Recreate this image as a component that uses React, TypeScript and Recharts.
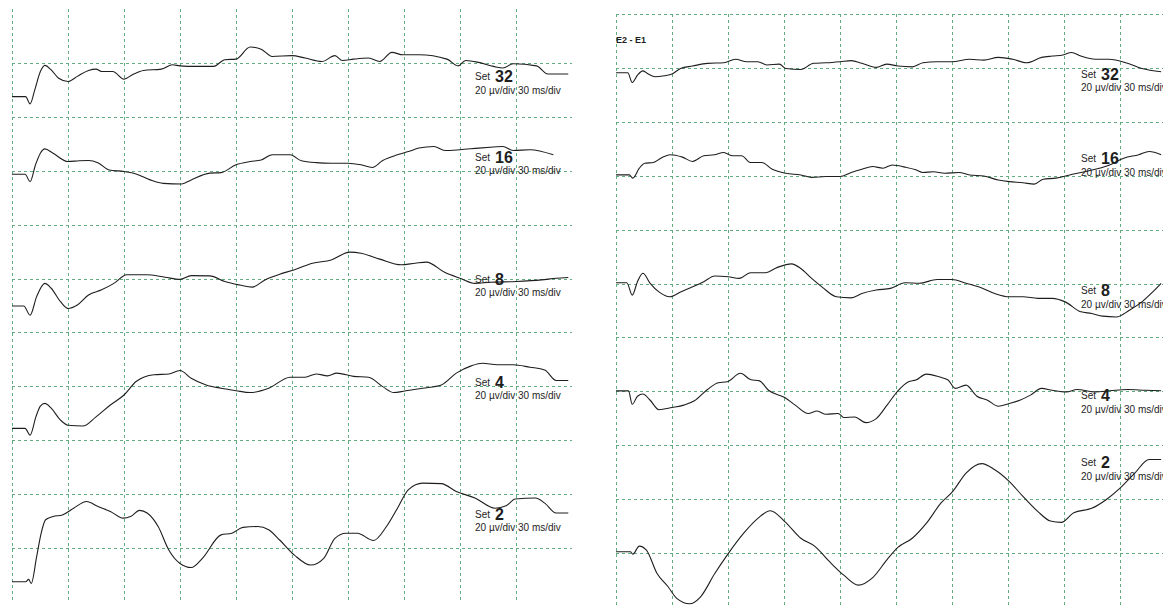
import { LineChart, Line, XAxis, YAxis, CartesianGrid } from "recharts";

type Pt = [number, number];

// time in ms, amplitude in µV relative to each trace's own baseline
const setNames = ["32", "16", "8", "4", "2"];
const leftBase = [187.5, 158.7, 109.8, 64.4, 7.5];
const rightBase = [198.2, 160.3, 120.3, 80.2, 20.5];

const xTicks = [0, 30, 60, 90, 120, 150, 180, 210, 240, 270];
const yTicksLeft = [0, 20, 40, 60, 80, 100, 120, 140, 160, 180, 200];
const yTicksRight = [0, 20, 40, 60, 80, 100, 120, 140, 160, 180, 200, 220];
const yMax = 220;

const left32: Pt[] = [
	[0, 0], [7.3, 0], [9.7, -2.7], [12.2, 2.5], [15.2, 9.3], [17.6, 11.6], [21, 9.9], [25, 6.8],
	[30, 5.6], [35, 7.5], [41, 9.7], [45, 10.2], [48, 9.3], [54, 9.3], [60, 6.5], [64.5, 8.1],
	[70.4, 9.7], [80, 10.2], [86, 11.8], [90, 11.4], [98, 11.2], [108, 11.2], [114, 13.7], [120, 13.9],
	[127.6, 18.4], [133.5, 17.6], [139.4, 14.9], [150, 15.2], [157, 14.3], [166, 13], [173, 15.2],
	[177, 13.4], [183, 13.9], [191, 14.3], [197, 13], [203.5, 16.4], [209.5, 15.5], [218, 15.5],
	[233, 13.9], [239, 11.4], [243, 13.4], [250, 12.7], [258, 11.2], [263, 10.6], [268.5, 12.2],
	[281, 11.4], [287, 8.4], [298, 8.4]
];
const left16: Pt[] = [
	[0, 0], [7, 0], [9.7, -2.7], [12.6, 3.5], [15.2, 7.8], [17.6, 9.4], [22, 7.8], [30, 4.7],
	[36, 5], [41, 5.1], [46, 4.3], [52, 1.6], [60, 1], [66.5, 0.1], [74, -2.1], [81, -3.4],
	[91, -3.6], [96, -2.1], [106, 0.4], [112, 0.6], [120, 3.5], [127.6, 4.7], [133.5, 5.3],
	[139.4, 7.2], [149, 7.2], [155, 5], [163, 4.3], [171, 4.1], [180, 4.1], [187, 3.5], [193, 2.5],
	[198.6, 5.1], [206.5, 7.2], [212.4, 8.4], [218, 9.7], [226, 10.3], [232, 8.8], [240, 9.1],
	[250, 9.7], [258, 10.1], [263, 10.3], [268.5, 8.8], [277.5, 9.1], [290, 7.2]
];
const left8: Pt[] = [
	[0, 0], [6.3, 0], [9.7, -3.4], [13.2, 3.5], [17.6, 8.4], [21, 6.6], [26, 1.6], [30, -0.9],
	[35, 0.4], [41, 4.1], [48, 6], [54.6, 8.4], [61.5, 11.6], [72, 11.6], [82, 10.7], [90, 9.9],
	[96, 11.3], [106, 11.2], [114, 9.1], [122, 7.8], [128.6, 7], [135.5, 9.7], [143.4, 11.8],
	[151, 13.4], [161, 15.9], [171, 17.1], [181, 20], [187, 19.6], [197, 17.4], [208.5, 15.3],
	[216, 15.9], [222, 16.3], [232, 12.4], [240, 10.3], [248, 8.4], [256, 8.8], [270, 9.1],
	[283.6, 9.7], [291.5, 10.3], [298, 10.6]
];
const left4: Pt[] = [
	[0, 0], [7, 0], [9.7, -2.5], [12.8, 4.3], [15.2, 8.3], [17.6, 9.3], [21, 7.5], [26, 3.1],
	[30, 1.2], [38, 0.9], [45, 4.3], [52.7, 8.7], [60, 12.4], [66.5, 17.4], [76, 19.9], [84, 20.2],
	[90, 21.5], [96, 18.6], [104, 16.1], [112, 14.9], [120, 14], [127.6, 13.3], [137.5, 14.9],
	[149, 19], [157, 19], [163, 20.2], [169, 19.5], [174, 20.5], [183, 19.3], [191, 19],
	[198.6, 15.5], [204.5, 13.3], [210.5, 13.9], [220, 14.9], [230, 16.1], [238, 20.5], [246, 23.2],
	[252, 24.2], [260, 23.6], [268.5, 23.6], [277.5, 22.7], [285.4, 21.7], [291.5, 17.8], [298, 17.8]
];
const left2: Pt[] = [
	[0, 0], [7.3, 0], [8.9, 0.9], [10.3, -0.6], [13.2, 9.3], [15.6, 18], [18, 23], [22, 24.2],
	[27, 24.8], [33, 27.3], [40, 29.8], [45.8, 28], [52.7, 26.1], [59.6, 23.6], [63.5, 24.2],
	[68.4, 26.5], [72.4, 25.5], [78.3, 20.5], [84, 11.8], [90, 6.8], [96, 5.3], [102, 8.7],
	[112, 17.4], [117.8, 18], [123.7, 20.2], [131.6, 20.5], [137.5, 19.3], [143.4, 15.5],
	[151.3, 9.9], [160, 6.2], [167, 8.7], [173, 16.1], [179, 18], [185, 18], [193.7, 15.3],
	[200.6, 20.5], [206.5, 27.3], [212.4, 34.2], [220, 36.6], [230, 36.4], [238, 33.5], [248, 31.1],
	[258.8, 27.3], [264.7, 28.2], [269.6, 30.7], [280.5, 31.1], [285.4, 29.2], [291.5, 25.5], [298, 25.5]
];

const right32: Pt[] = [
	[0, 0], [6.3, 0], [8.7, -3.6], [11.5, -0.9], [14.4, 0.7], [17.3, -0.5], [21, -1.5], [26, -1.1],
	[30, -0.5], [34.6, 1.6], [41, 2.5], [49, 3.5], [57.7, 3.7], [64, 5], [70, 4.1], [76, 4.1],
	[80.8, 2.9], [87.5, 3.2], [91, 1.6], [99, 1.2], [105.8, 3.5], [112.5, 3.7], [120, 4.1], [126, 4.5],
	[131.7, 3.5], [139.4, 2], [145, 3.2], [151, 2.5], [158.7, 2.2], [164.4, 3.7], [172, 4.1], [180, 4.1],
	[189.4, 5], [197, 4.7], [204.8, 5.7], [212.5, 5], [220, 3.7], [228, 5.7], [233.7, 6.2],
	[239.4, 6.6], [244, 7.5], [249, 6.2], [256.7, 5], [264, 5], [274, 3.5], [281.7, 1.6], [292, 0.4]
];
const right16: Pt[] = [
	[0, 0], [7.1, 0], [9, -1.2], [12.5, 2.5], [15.4, 4.3], [20, 4.6], [24, 6.2], [29, 7.5],
	[35.6, 6.6], [41, 5], [47, 7.1], [52.7, 7.5], [57.7, 8.3], [62.5, 7.1], [67.3, 7.1], [72, 4.6],
	[78, 4.6], [83.7, 2.1], [91, 0.6], [99, 0], [104.8, -0.9], [112.5, -0.6], [120, -0.6], [126, 0.9],
	[131.7, 2.1], [137.5, 3.1], [143, 2.5], [148, 3.7], [154.8, 2.9], [160.6, 1.9], [164.4, 0.9],
	[170, 1.2], [176, 0.6], [183.7, 0.9], [189.4, 0], [197, -0.4], [204.8, -1.9], [210.6, -2.5],
	[218, -2.9], [224, -3.4], [228.8, -1.6], [235.6, -1.2], [243, 0], [251, 1.2], [264.4, 3.7],
	[272, 6.2], [280, 7.5], [285.6, 8.7], [292, 7.5]
];
const right8: Pt[] = [
	[0, 0], [5.8, 0], [8.7, -4.6], [11.5, 0.4], [14.4, 3.5], [18.3, -0.2], [23, -3.4], [28.8, -5.2],
	[34.6, -3.4], [41, -1.5], [47, 0.4], [52.9, 2.5], [60, 2.2], [66, 1.6], [72, 3.7], [80, 3.7],
	[86.5, 5.7], [94, 7], [99, 5.3], [104.8, 1.6], [110.6, -1.7], [118, -5.2], [126, -5.6],
	[131.7, -4], [139.4, -2.7], [147, -2.1], [154.8, 0], [162.5, -0.2], [172, 1.2], [180, 1.2],
	[187.5, -0.2], [195, -1.7], [202.9, -4], [210.6, -5.2], [218, -5.2], [226, -5.8], [233.7, -5.8],
	[240.6, -7.1], [249, -10.8], [254.8, -11.4], [260.6, -12.4], [268, -12.7], [275, -10.2],
	[281.7, -7.1], [287.5, -3.4], [292, -0.2]
];
const right4: Pt[] = [
	[0, 0], [6.7, 0], [8.7, -5], [11.5, -2], [14.4, -1.2], [18.3, -3.5], [23, -7], [30, -6.2],
	[36.3, -5.3], [42, -3.7], [49, 0.5], [54.8, 3], [59.6, 3.4], [66.7, 6.5], [72, 4.2], [76.9, 3.7],
	[81.7, 0.2], [90.4, -2.5], [96, -5.3], [103, -8.4], [107.7, -7.5], [112.5, -8.7], [119, -8.4],
	[122, -9.9], [127.9, -9.7], [133.7, -11.8], [139.4, -10.3], [145.2, -5.3], [151, 0],
	[156.7, 3.4], [160.6, 4], [166.3, 6.2], [173, 5.2], [177.9, 4], [181.7, 0.9], [187.5, 2.1],
	[193.3, -2], [199, -3.5], [204.8, -5.7], [210.6, -4.7], [216.3, -3.5], [222, -1.6], [227.9, 0.9],
	[233.7, 0.2], [241.3, -0.4], [247, 0.5], [256.7, -0.4], [264.4, 0], [274, 0.5], [283.6, 0.2], [292, 0]
];
const right2: Pt[] = [
	[0, 0], [7.7, 0], [9, -0.9], [12.5, 2.1], [16.3, 0.6], [22, -8.1], [27.9, -13], [32.7, -17.4],
	[39.4, -19.3], [45.2, -16.8], [52.9, -8.1], [60.2, -0.6], [68.3, 6.8], [76, 12.4], [82.7, 15.2],
	[90.4, 11.2], [99, 5], [106.7, 1.9], [114.4, -3.7], [122, -8.7], [129.8, -12.4], [137.5, -9.6],
	[145.2, -2.9], [151, 1.6], [158.7, 5], [166.3, 10.6], [174, 18], [180.4, 22.4], [187.5, 29.2],
	[196, 32.7], [202.9, 30.4], [210.6, 26.1], [218, 20.5], [226, 14.9], [232.7, 11.4], [238.5, 10.9],
	[245.2, 14.5], [254.8, 16.1], [262.5, 19.3], [270, 23.6], [277.9, 29.2], [285.6, 34.2], [292, 34.2]
];

const leftTraces = [left32, left16, left8, left4, left2];
const rightTraces = [right32, right16, right8, right4, right2];

// label centres: [set line, sub line]
const leftLabelY = [[76.7, 90.7], [157.7, 170.7], [280, 293.3], [382.7, 395.7], [515, 528.3]];
const rightLabelY = [[74.5, 88], [158.5, 173], [291, 304.5], [396, 410], [463, 476.5]];

const font = "'Liberation Sans', Arial, sans-serif";
const ink = "#1e1e1e";
const gridColor = "#62ad80";

const shift = (pts: Pt[], base: number) => pts.map(([t, v]) => ({ t, v: v + base }));

const Panel = ({
	traces,
	bases,
	left,
	top,
	width,
	xMax,
	yTicks
}: {
	traces: Pt[][];
	bases: number[];
	left: number;
	top: number;
	width: number;
	xMax: number;
	yTicks: number[];
}) => (
	<div style={{ position: "absolute", left, top }}>
		<LineChart width={width} height={593} margin={{ top: 0, right: 0, bottom: 0, left: 0 }}>
			<CartesianGrid
				stroke={gridColor}
				strokeDasharray="3 3"
				verticalCoordinatesGenerator={({ offset }: any) =>
					xTicks.map((t) => Math.round(offset.left + (t / xMax) * offset.width) + 0.5)
				}
				horizontalCoordinatesGenerator={({ offset }: any) =>
					yTicks.map((v) => Math.round(offset.top + ((yMax - v) / yMax) * offset.height) + 0.5)
				}
			/>
			<XAxis type="number" dataKey="t" domain={[0, xMax]} ticks={xTicks} hide />
			<YAxis type="number" domain={[0, yMax]} ticks={yTicks} hide />
			{traces.map((tr, i) => (
				<Line
					key={i}
					data={shift(tr, bases[i])}
					dataKey="v"
					type="monotone"
					stroke={ink}
					strokeWidth={1.1}
					dot={false}
					isAnimationActive={false}
				/>
			))}
		</LineChart>
	</div>
);

const SetLabel = ({ name, x, xNum, ys }: { name: string; x: number; xNum: number; ys: number[] }) => (
	<>
		<div style={{ position: "absolute", left: x, top: ys[0] - 5, fontSize: 10, lineHeight: "10px", fontFamily: font, color: ink }}>
			Set
		</div>
		<div style={{ position: "absolute", left: xNum, top: ys[0] - 6, fontSize: 16, lineHeight: "12px", fontWeight: 700, fontFamily: font, color: ink }}>
			{name}
		</div>
		<div style={{ position: "absolute", left: x, top: ys[1] - 5, fontSize: 10, lineHeight: "10px", fontFamily: font, color: ink, whiteSpace: "nowrap" }}>
			20 µv/div 30 ms/div
		</div>
	</>
);

export default function App() {
	return (
		<div style={{ position: "absolute", left: 0, top: 0, width: 1163, height: 613, overflow: "hidden", background: "#fff" }}>
			<Panel traces={leftTraces} bases={leftBase} left={12} top={9} width={560} xMax={300} yTicks={yTicksLeft} />
			<Panel traces={rightTraces} bases={rightBase} left={616} top={14} width={547} xMax={293} yTicks={yTicksRight} />
			<div style={{ position: "absolute", left: 616, top: 36, fontSize: 9, lineHeight: 1, fontWeight: 700, fontFamily: font, color: ink }}>
				E2 - E1
			</div>
			{setNames.map((n, i) => (
				<SetLabel key={"l" + n} name={n} x={475} xNum={495} ys={leftLabelY[i]} />
			))}
			{setNames.map((n, i) => (
				<SetLabel key={"r" + n} name={n} x={1081} xNum={1101} ys={rightLabelY[i]} />
			))}
		</div>
	);
}
